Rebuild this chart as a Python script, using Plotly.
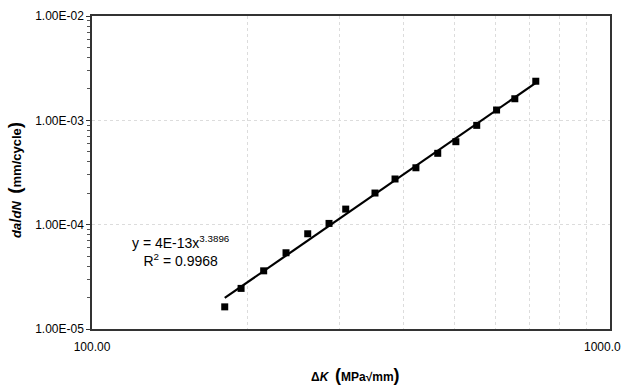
import numpy as np
import plotly.graph_objects as go

# Data
delta_k = [180.4, 194, 214.5, 236.9, 260.9, 286.8, 308.9, 351.8, 384.6, 422, 465, 504, 553, 604, 655, 719]
dadn = [1.63e-5, 2.45e-5, 3.61e-5, 5.38e-5, 8.18e-5, 1.028e-4, 1.41e-4, 2.01e-4, 2.74e-4, 3.51e-4,
        4.83e-4, 6.24e-4, 8.95e-4, 1.256e-3, 1.61e-3, 2.37e-3]

x_tick_vals = [100, 1000]
x_tick_text = ["100.00", "1000.0"]
y_tick_vals = [1e-5, 1e-4, 1e-3, 1e-2]
y_tick_text = ["1.00E-05", "1.00E-04", "1.00E-03", "1.00E-02"]

equation_text = "y = 4E-13x<sup>3.3896</sup><br>R<sup>2</sup> = 0.9968"

# Power-law trendline (least squares in log space, like a spreadsheet trendline)
lx = np.log10(delta_k)
ly = np.log10(dadn)
b, a = np.polyfit(lx, ly, 1)
fit_x = np.array([min(delta_k), max(delta_k)])
fit_y = 10 ** (a + b * np.log10(fit_x))

fig = go.Figure()
fig.add_trace(go.Scatter(x=fit_x, y=fit_y, mode="lines",
                         line=dict(color="black", width=2.2), showlegend=False))
fig.add_trace(go.Scatter(x=delta_k, y=dadn, mode="markers",
                         marker=dict(symbol="square", size=7, color="black"), showlegend=False))

fig.update_layout(
    width=624, height=386,
    margin=dict(l=92, r=14, t=16, b=57),
    paper_bgcolor="white", plot_bgcolor="white",
    font=dict(family="Arial, Liberation Sans", size=12, color="black"),
)
# first x tick label drawn by the axis, last one placed against the right edge
fig.update_xaxes(
    type="log", range=[2 - 1e-6, 3 + 1e-6],
    tickvals=x_tick_vals[:1], ticktext=x_tick_text[:1],
    showline=True, linecolor="#333", linewidth=1.5, mirror=True,
    ticks="", showgrid=False, automargin=False,
    tickfont=dict(size=12), ticklabelstandoff=6,
    minor=dict(dtick="D1", showgrid=True, gridcolor="#dcdcdc", griddash="dot", gridwidth=1,
               ticks=""),
    zeroline=False,
)
fig.add_annotation(
    text=x_tick_text[1], xref="paper", yref="paper", x=(623 - 92) / 518, y=-(347 - 329) / 313,
    xanchor="right", yanchor="middle", showarrow=False, font=dict(size=12),
)
fig.update_yaxes(
    type="log", range=[-5, -2],
    tickvals=y_tick_vals, ticktext=y_tick_text,
    showline=True, linecolor="#333", linewidth=1.5, mirror=True,
    ticks="outside", ticklen=4, tickcolor="#333",
    showgrid=True, gridcolor="#dcdcdc", griddash="dot", gridwidth=1,
    automargin=False, tickfont=dict(size=12),
    minor=dict(dtick="D1", ticks="outside", ticklen=3, tickcolor="#555", showgrid=False),
    zeroline=False,
)

fig.add_annotation(
    text=equation_text, xref="paper", yref="paper", x=0.073, y=1 - (251 - 16) / 313,
    xanchor="left", yanchor="middle", showarrow=False, align="center",
    font=dict(size=14, family="Arial, Liberation Sans"),
)
fig.add_annotation(
    text="<b>Δ<i>K</i></b>  <b><span style='font-size:18px'>(</span>MPa√mm<span style='font-size:18px'>)</span></b>",
    xref="paper", yref="paper", x=0.508, y=-(375 - 329) / 313, showarrow=False,
    xanchor="center", yanchor="middle",
    font=dict(size=12, family="Arial, Liberation Sans"),
)
fig.add_annotation(
    text="<b><i>da</i><span style='font-size:16px'>/</span><i>dN</i>  <span style='font-size:19px'>(</span>mm/cycle<span style='font-size:19px'>)</span></b>",
    xref="paper", yref="paper", x=(14 - 92) / 518, y=0.476, showarrow=False, textangle=-90,
    xanchor="center", yanchor="middle",
    font=dict(size=13, family="Arial, Liberation Sans"),
)

fig.write_html("out.html")
